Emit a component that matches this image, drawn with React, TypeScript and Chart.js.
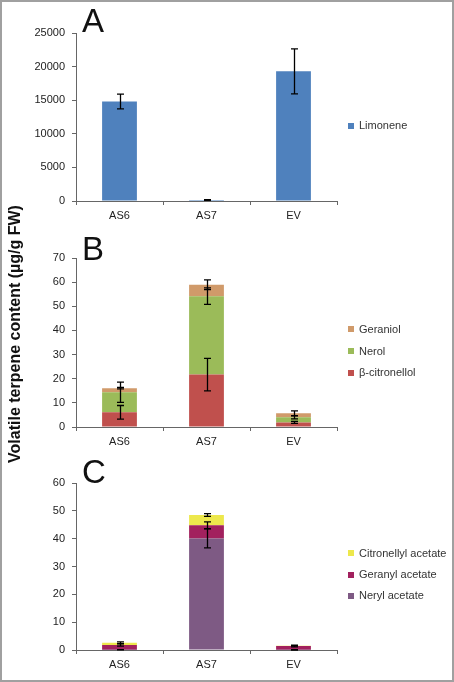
import React, { useEffect, useRef } from "react";
import { Chart, registerables } from "chart.js";

Chart.register(...registerables);

const categories = ["AS6", "AS7", "EV"];

// Panel A
const limonene = [14800, 150, 19300];
const limoneneErr = [1100, 60, 3350];

// Panel B
const citronellol = [6.1, 21.7, 1.9];
const citronellolErr = [2.8, 6.7, 0.4];
const nerol = [8.3, 32.5, 2.1];
const nerolErr = [4.2, 3.4, 0.6];
const geraniol = [1.7, 4.7, 1.7];
const geraniolErr = [0.3, 2.0, 1.0];

// Panel C
const nerylAcetate = [0.1, 40.1, 0.05];
const nerylAcetateErr = [0.05, 3.4, 0.05];
const geranylAcetate = [1.7, 4.7, 1.4];
const geranylAcetateErr = [0.4, 1.2, 0.3];
const citronellylAcetate = [0.8, 3.7, 0.1];
const citronellylAcetateErr = [0.3, 0.5, 0.05];

const yTitle = "Volatile terpene content (\u00b5g/g FW)";

const FONT = "'Liberation Sans', Arial, sans-serif";

type Series = { label: string; data: number[]; errors: number[]; color: string };

type PanelCfg = {
  letter: string;
  top: number;
  height: number;
  padTop: number;
  max: number;
  step: number;
  letterBaseline: number;
  legendY: number[];
  series: Series[];
};

const panels: PanelCfg[] = [
  {
    letter: "A",
    top: 0,
    height: 225,
    padTop: 33,
    max: 25000,
    step: 5000,
    letterBaseline: 32,
    legendY: [125.5],
    series: [{ label: "Limonene", data: limonene, errors: limoneneErr, color: "#4F81BD" }],
  },
  {
    letter: "B",
    top: 225,
    height: 226,
    padTop: 33,
    max: 70,
    step: 10,
    letterBaseline: 35,
    legendY: [104, 126, 147.5],
    series: [
      { label: "\u03b2-citronellol", data: citronellol, errors: citronellolErr, color: "#C0504D" },
      { label: "Nerol", data: nerol, errors: nerolErr, color: "#9BBB59" },
      { label: "Geraniol", data: geraniol, errors: geraniolErr, color: "#D09A6A" },
    ],
  },
  {
    letter: "C",
    top: 451,
    height: 223,
    padTop: 32,
    max: 60,
    step: 10,
    letterBaseline: 32,
    legendY: [102, 123.7, 144.7],
    series: [
      { label: "Neryl acetate", data: nerylAcetate, errors: nerylAcetateErr, color: "#7E5A84" },
      { label: "Geranyl acetate", data: geranylAcetate, errors: geranylAcetateErr, color: "#A2215E" },
      { label: "Citronellyl acetate", data: citronellylAcetate, errors: citronellylAcetateErr, color: "#EDE84C" },
    ],
  },
];

function makeOverlay(cfg: PanelCfg) {
  return {
    id: "overlay" + cfg.letter,
    afterDatasetsDraw(chart: any) {
      const ctx = chart.ctx;
      const y = chart.scales.y;
      const cum = categories.map(() => 0);
      ctx.save();
      ctx.strokeStyle = "#000";
      ctx.lineWidth = 1.3;
      chart.data.datasets.forEach((d: any, di: number) => {
        const meta = chart.getDatasetMeta(di);
        d.data.forEach((v: number, i: number) => {
          cum[i] += v;
          const err = d.errors[i];
          const x = Math.round(meta.data[i].x) + 0.5;
          const t = y.getPixelForValue(cum[i] + err);
          const b = y.getPixelForValue(Math.max(cum[i] - err, 0));
          ctx.beginPath();
          ctx.moveTo(x, t);
          ctx.lineTo(x, b);
          ctx.moveTo(x - 3.5, t);
          ctx.lineTo(x + 3.5, t);
          ctx.moveTo(x - 3.5, b);
          ctx.lineTo(x + 3.5, b);
          ctx.stroke();
        });
      });
      ctx.restore();
    },
    afterDraw(chart: any) {
      const ctx = chart.ctx;
      ctx.save();
      ctx.fillStyle = "#111";
      ctx.font = `33px ${FONT}`;
      ctx.textBaseline = "alphabetic";
      ctx.textAlign = "left";
      ctx.fillText(cfg.letter, 82, cfg.letterBaseline);
      const items = [...cfg.series].reverse();
      ctx.font = `11px ${FONT}`;
      ctx.textBaseline = "middle";
      items.forEach((s, k) => {
        const cy = cfg.legendY[k];
        ctx.fillStyle = s.color;
        ctx.fillRect(348, Math.round(cy - 3), 6, 6);
        ctx.fillStyle = "#333";
        ctx.fillText(s.label, 359, cy + 0.5);
      });
      ctx.restore();
    },
  };
}

function Panel({ cfg }: { cfg: PanelCfg }) {
  const ref = useRef<HTMLCanvasElement | null>(null);
  useEffect(() => {
    if (!ref.current) return;
    const chart = new Chart(ref.current, {
      type: "bar",
      data: {
        labels: categories,
        datasets: cfg.series.map((s) => ({
          label: s.label,
          data: s.data,
          errors: s.errors,
          backgroundColor: s.color,
          borderWidth: 0,
          barPercentage: 1,
          categoryPercentage: 0.4,
        })) as any,
      },
      options: {
        animation: false,
        responsive: false,
        maintainAspectRatio: false,
        layout: { padding: { top: cfg.padTop, left: 0, right: 454 - 337, bottom: 0 } },
        plugins: { legend: { display: false }, tooltip: { enabled: false } },
        scales: {
          x: {
            stacked: true,
            afterFit: (s: any) => {
              s.height = 24;
            },
            border: { display: true, color: "#666", width: 1 },
            grid: { display: true, drawOnChartArea: false, drawTicks: true, tickLength: 4, color: "#666", offset: true },
            ticks: { color: "#222", padding: 4, font: { family: FONT, size: 11 } },
          },
          y: {
            stacked: true,
            min: 0,
            max: cfg.max,
            afterFit: (s: any) => {
              s.width = 76;
            },
            border: { display: true, color: "#666", width: 1 },
            grid: { display: true, drawOnChartArea: false, drawTicks: true, tickLength: 4, color: "#666" },
            ticks: {
              stepSize: cfg.step,
              color: "#222",
              padding: 7,
              font: { family: FONT, size: 11 },
              callback: (v: any) => String(v),
            },
          },
        },
      },
      plugins: [makeOverlay(cfg)],
    });
    return () => chart.destroy();
  }, [cfg]);
  return (
    <canvas
      ref={ref}
      width={454}
      height={cfg.height}
      style={{ position: "absolute", left: 0, top: cfg.top, width: 454, height: cfg.height }}
    />
  );
}

export default function App() {
  return (
    <div
      style={{
        position: "absolute",
        left: 0,
        top: 0,
        width: 454,
        height: 682,
        background: "#fff",
        overflow: "hidden",
      }}
    >
      {panels.map((p) => (
        <Panel key={p.letter} cfg={p} />
      ))}
      <div
        style={{
          position: "absolute",
          left: 15,
          top: 334,
          transform: "translate(-50%, -50%) rotate(-90deg)",
          whiteSpace: "nowrap",
          font: `bold 16px ${FONT}`,
          color: "#111",
          lineHeight: "18px",
        }}
      >
        {yTitle}
      </div>
      <div
        style={{
          position: "absolute",
          left: 0,
          top: 0,
          width: 454,
          height: 682,
          boxSizing: "border-box",
          border: "2px solid #a0a0a0",
          pointerEvents: "none",
        }}
      />
    </div>
  );
}
